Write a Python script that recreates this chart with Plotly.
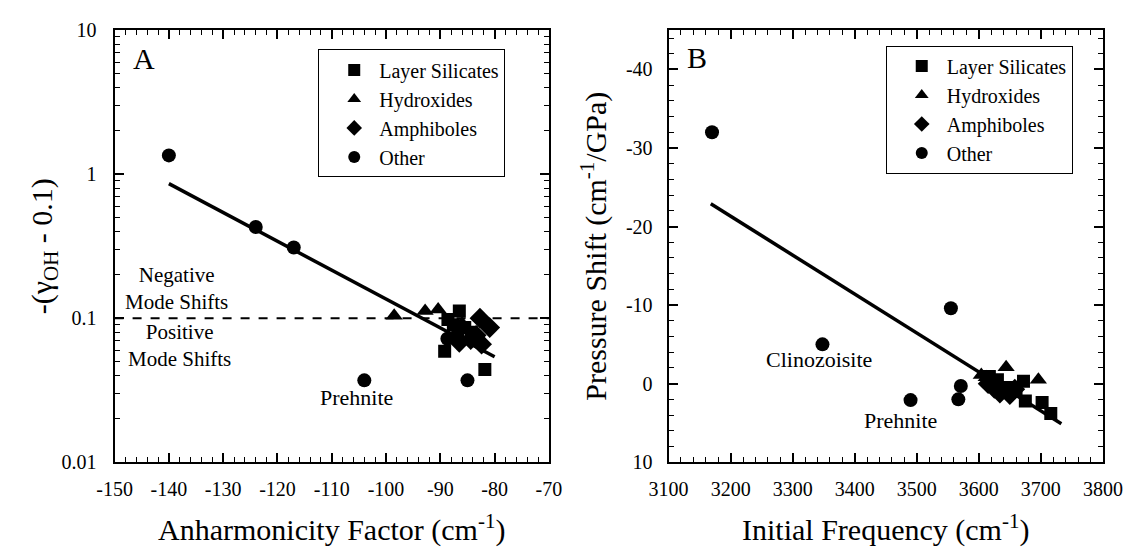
import plotly.graph_objects as go

W, H = 1148, 549
FONT = "Liberation Serif"

# ---------------- Panel A data ----------------
a_layer_x = [-86.5, -88.6, -89.2, -81.8, -85.5, -86.8, -84.3, -87.6]
a_layer_y = [0.112, 0.098, 0.059, 0.044, 0.086, 0.076, 0.080, 0.090]
a_hydro_x = [-98.5, -92.8, -90.4, -86.0, -85.2]
a_hydro_y = [0.104, 0.112, 0.115, 0.092, 0.082]
a_amph_x = [-82.7, -80.9, -84.4, -86.5, -83.4, -82.4]
a_amph_y = [0.100, 0.086, 0.071, 0.068, 0.076, 0.066]
a_other_x = [-140, -124, -117, -104, -85, -88.7]
a_other_y = [1.35, 0.43, 0.31, 0.037, 0.037, 0.072]
a_fit_x = [-140, -80]
a_fit_y = [0.86, 0.054]
a_ref_y = 0.1

a_xtick_vals = [-150, -140, -130, -120, -110, -100, -90, -80, -70]
a_xtick_text = ["-150", "-140", "-130", "-120", "-110", "-100", "-90", "-80", "-70"]
a_ytick_vals = [0.01, 0.1, 1, 10]
a_ytick_text = ["0.01", "0.1", "1", "10"]

# ---------------- Panel B data ----------------
b_layer_x = [3617, 3630, 3672, 3675, 3702, 3716, 3660, 3645]
b_layer_y = [-0.9, -0.5, -0.3, 2.2, 2.4, 3.8, 1.0, 0.5]
b_hydro_x = [3604, 3644, 3696, 3612]
b_hydro_y = [-1.1, -2.1, -0.5, -0.8]
b_amph_x = [3615, 3634, 3650, 3658, 3625]
b_amph_y = [0.0, 1.2, 1.4, 0.7, 0.6]
b_other_x = [3170, 3555, 3348, 3490, 3571, 3567]
b_other_y = [-32.0, -9.6, -5.0, 2.1, 0.3, 2.0]
b_fit_x = [3168, 3733]
b_fit_y = [-22.9, 5.1]

b_ytick_vals = [-40, -30, -20, -10, 0, 10]
b_ytick_text = ["-40", "-30", "-20", "-10", "0", "10"]

series_names = ["Layer Silicates", "Hydroxides", "Amphiboles", "Other"]
symbols = ["square", "triangle-up", "diamond", "circle"]
sizes = [13, 15, 16, 14]

fig = go.Figure()

a_sets = [(a_layer_x, a_layer_y), (a_hydro_x, a_hydro_y), (a_amph_x, a_amph_y), (a_other_x, a_other_y)]
b_sets = [(b_layer_x, b_layer_y), (b_hydro_x, b_hydro_y), (b_amph_x, b_amph_y), (b_other_x, b_other_y)]

fig.add_trace(go.Scatter(x=a_fit_x, y=a_fit_y, mode="lines", line=dict(color="black", width=3.5),
                         showlegend=False, xaxis="x", yaxis="y", hoverinfo="skip"))
fig.add_trace(go.Scatter(x=b_fit_x, y=b_fit_y, mode="lines", line=dict(color="black", width=3.5),
                         showlegend=False, xaxis="x2", yaxis="y2", hoverinfo="skip"))

for (xs, ys), name, sym, sz in zip(a_sets, series_names, symbols, sizes):
    fig.add_trace(go.Scatter(x=xs, y=ys, mode="markers", name=name,
                             marker=dict(symbol=sym, size=sz, color="black"),
                             xaxis="x", yaxis="y", legend="legend"))
for (xs, ys), name, sym, sz in zip(b_sets, series_names, symbols, sizes):
    fig.add_trace(go.Scatter(x=xs, y=ys, mode="markers", name=name,
                             marker=dict(symbol=sym, size=sz, color="black"),
                             xaxis="x2", yaxis="y2", legend="legend2"))

def px(x):
    return x / W

def py(y):
    return 1 - y / H

common = dict(showline=True, linecolor="black", linewidth=2, mirror="allticks",
              ticks="inside", ticklen=9, tickwidth=1.5, tickcolor="black",
              showgrid=False, zeroline=False,
              tickfont=dict(family=FONT, size=20, color="black"))
minor_common = dict(ticks="inside", ticklen=5, tickwidth=1.3, tickcolor="black")

minor_log = [m * 10 ** e for e in (-2, -1, 0) for m in range(2, 10)]
title_font = dict(family=FONT, size=30, color="black")
legend_common = dict(xanchor="left", yanchor="top", bordercolor="black", borderwidth=1,
                     bgcolor="white", itemsizing="constant", itemwidth=40, indentation=10,
                     font=dict(family=FONT, size=20, color="black"), tracegroupgap=0)

fig.update_layout(
    width=W, height=H,
    margin=dict(l=0, r=0, t=0, b=0),
    paper_bgcolor="white", plot_bgcolor="white",
    font=dict(family=FONT, color="black"),
    xaxis=dict(domain=[px(98), px(548)], range=[-150, -70],
               tickmode="array", tickvals=a_xtick_vals, ticktext=a_xtick_text,
               minor=dict(tickmode="linear", tick0=-150, dtick=2, **minor_common),
               title=dict(text="Anharmonicity Factor (cm<sup>-1</sup>)", font=title_font, standoff=20),
               anchor="y", ticklabelstandoff=8, **common),
    yaxis=dict(domain=[py(470), py(20)], type="log", range=[-2, 1],
               tickmode="array", tickvals=a_ytick_vals, ticktext=a_ytick_text,
               minor=dict(tickmode="array", tickvals=minor_log, **minor_common),
               title=dict(text="-(γ<sub>OH</sub> - 0.1)", font=title_font, standoff=0),
               anchor="x", ticklabelstandoff=12, **common),
    xaxis2=dict(domain=[px(672), px(1122)], range=[3100, 3800], dtick=100, tick0=3100,
                minor=dict(dtick=20, **minor_common),
                title=dict(text="Initial Frequency (cm<sup>-1</sup>)", font=title_font, standoff=20),
                anchor="y2", ticklabelstandoff=8, **common),
    yaxis2=dict(domain=[py(470), py(20)], range=[10, -45],
                tickmode="array", tickvals=b_ytick_vals, ticktext=b_ytick_text,
                minor=dict(tickmode="linear", tick0=0, dtick=2, **minor_common),
                title=dict(text="Pressure Shift (cm<sup>-1</sup>/GPa)", font=title_font, standoff=10),
                anchor="x2", ticklabelstandoff=10, **common),
    legend=dict(x=px(309), y=py(40), **legend_common),
    legend2=dict(x=px(897), y=py(36), **legend_common),
    shapes=[dict(type="line", xref="x domain", yref="y", x0=0, x1=1, y0=a_ref_y, y1=a_ref_y,
                 line=dict(color="black", width=2, dash="dash"), layer="below")],
)

annots = [
    ("A", 128, 50, 30),
    ("B", 701, 48, 30),
    ("Negative<br>Mode Shifts", 162, 289, 21),
    ("Positive<br>Mode Shifts", 165, 348, 21),
    ("Prehnite", 349, 403, 22),
    ("Clinozoisite", 828, 363, 22),
    ("Prehnite", 912, 427, 22),
]
for text, x, y, s in annots:
    fig.add_annotation(text=text, x=px(x), y=py(y), xref="paper", yref="paper",
                       xanchor="center", yanchor="middle", showarrow=False, borderpad=0,
                       font=dict(family=FONT, size=s, color="black"))

fig.write_html("out.html")
